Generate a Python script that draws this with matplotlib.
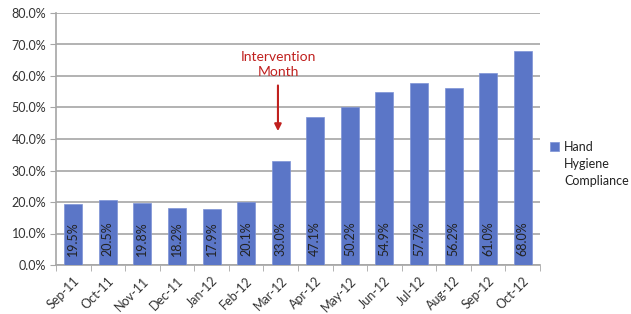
import matplotlib.pyplot as plt

months = ["Sep-11", "Oct-11", "Nov-11", "Dec-11", "Jan-12", "Feb-12", "Mar-12",
          "Apr-12", "May-12", "Jun-12", "Jul-12", "Aug-12", "Sep-12", "Oct-12"]
compliance = [19.5, 20.5, 19.8, 18.2, 17.9, 20.1, 33.0,
              47.1, 50.2, 54.9, 57.7, 56.2, 61.0, 68.0]

plt.rcParams['font.family'] = ['Lato', 'DejaVu Sans']

fig = plt.figure(figsize=(6.31, 3.14), dpi=100)
ax = fig.add_axes([56 / 631, 1 - 265 / 314, 484 / 631, 252 / 314])

x = list(range(len(months)))
ax.bar(x, compliance, width=0.52, color="#5B76C7", edgecolor="#7D93D6",
       linewidth=0.5, zorder=3, label="Hand")

for xi, v in zip(x, compliance):
    ax.text(xi, 2.8, f"{v:.1f}%", rotation=90, ha="center", va="bottom",
            fontsize=9, color="#222222", zorder=4)

ax.set_xlim(-0.5, len(months) - 0.5)
ax.set_ylim(0, 80)
ax.set_yticks(range(0, 81, 10))
ax.set_yticklabels([f"{t:.1f}%" for t in range(0, 81, 10)], fontsize=9, color="#333333")
ax.yaxis.grid(True, color="#A6A6A6", linewidth=1.2, zorder=0)

ax.set_xticks(x)
ax.set_xticklabels(months, rotation=45, ha="right", rotation_mode="anchor",
                   fontsize=9, color="#333333")
ax.set_xticks([i + 0.5 for i in range(-1, len(months))], minor=True)
ax.tick_params(axis="x", which="major", length=0, pad=7)
ax.tick_params(axis="x", which="minor", length=4, color="#A6A6A6")
ax.tick_params(axis="y", length=4, color="#A6A6A6", pad=3)

for s in ["top", "right"]:
    ax.spines[s].set_visible(False)
for s in ["left", "bottom"]:
    ax.spines[s].set_color("#A6A6A6")
    ax.spines[s].set_linewidth(1.2)

# arrow pointing at the intervention month, just left of the Mar-12 bar
ax.annotate("", xy=(5.92, 42.5), xytext=(5.92, 57),
            arrowprops=dict(arrowstyle="-|>", color="#C0201E", lw=1.5,
                            shrinkA=0, shrinkB=0, mutation_scale=10))
ax.text(5.92, 63.8, "Intervention\nMonth", ha="center", va="center",
        fontsize=10, color="#C0201E", linespacing=1.3)

leg = ax.legend(loc="center left", bbox_to_anchor=(550 / 631, 1 - 147 / 314),
                bbox_transform=fig.transFigure, frameon=False,
                fontsize=9, handlelength=0.7, handleheight=0.7,
                handletextpad=0.4, borderaxespad=0, borderpad=0)
for t in leg.get_texts():
    t.set_color("#222222")
ax.text(564 / 631, 1 - 164 / 314, "Hygiene", transform=fig.transFigure,
        ha="left", va="center", fontsize=9, color="#222222")
ax.text(564 / 631, 1 - 181 / 314, "Compliance", transform=fig.transFigure,
        ha="left", va="center", fontsize=9, color="#222222")

fig.savefig("out.png", dpi=100)
